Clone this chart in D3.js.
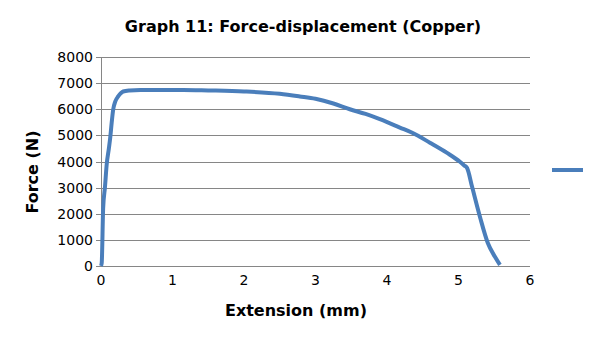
<!DOCTYPE html>
<html lang="en">
<head>
<meta charset="utf-8">
<title>Graph 11</title>
<script src="https://cdn.jsdelivr.net/npm/d3@7"></script>
<style>
  body { margin: 0; background: #fff; }
  svg { display: block; font-family: "DejaVu Sans", sans-serif; }
</style>
</head>
<body>
<div id="chart"></div>
<script>
// values
var extension = [0, 0.01, 0.03, 0.056, 0.08, 0.11, 0.13, 0.15, 0.17, 0.2, 0.24, 0.28, 0.31, 0.4, 0.55, 0.8,
  1.15, 1.5, 2.0, 2.5, 2.78, 3.0, 3.25, 3.48, 3.7, 3.9, 4.18, 4.36, 4.6, 4.84, 5.02, 5.08, 5.12,
  5.19, 5.30, 5.41, 5.51, 5.58];
var force = [0, 115, 2200, 3040, 3900, 4500, 4940, 5500, 5980, 6300, 6490, 6620, 6680, 6720, 6740, 6740,
  6740, 6720, 6680, 6590, 6490, 6400, 6220, 6000, 5820, 5620, 5300, 5090, 4720, 4330, 3990, 3850, 3750,
  3030, 1880, 880, 350, 40];
var xTicks = [0, 1, 2, 3, 4, 5, 6];
var yTicks = [0, 1000, 2000, 3000, 4000, 5000, 6000, 7000, 8000];

var W = 605, H = 340;
var svg = d3.select("#chart").append("svg").attr("width", W).attr("height", H);

var x = d3.scaleLinear().domain([0, 6]).range([101, 530]);
var y = d3.scaleLinear().domain([0, 8000]).range([266, 57]);

// gridlines + y tick marks
svg.append("g")
  .selectAll("line")
  .data(yTicks)
  .enter().append("line")
  .attr("x1", x(0) - 5).attr("x2", x(6))
  .attr("y1", function (d) { return Math.round(y(d)) + 0.5; })
  .attr("y2", function (d) { return Math.round(y(d)) + 0.5; })
  .attr("stroke", "#868686").attr("stroke-width", 1);

// y axis line
svg.append("line")
  .attr("x1", x(0) + 0.5).attr("x2", x(0) + 0.5)
  .attr("y1", y(8000)).attr("y2", y(0))
  .attr("stroke", "#868686");

// tick labels
svg.append("g")
  .selectAll("text")
  .data(yTicks)
  .enter().append("text")
  .attr("x", 93)
  .attr("y", function (d) { return y(d) + 5; })
  .attr("text-anchor", "end")
  .attr("font-size", 14)
  .text(function (d) { return d; });

svg.append("g")
  .selectAll("text")
  .data(xTicks)
  .enter().append("text")
  .attr("x", function (d) { return x(d); })
  .attr("y", 285)
  .attr("text-anchor", "middle")
  .attr("font-size", 14)
  .text(function (d) { return d; });

// curve
var pts = d3.zip(extension, force);
var line = d3.line()
  .curve(d3.curveMonotoneX)
  .x(function (d) { return x(d[0]); })
  .y(function (d) { return y(d[1]); });

svg.append("path")
  .datum(pts)
  .attr("d", line)
  .attr("fill", "none")
  .attr("stroke", "#4a7ebb")
  .attr("stroke-width", 4)
  .attr("stroke-linejoin", "round");

// legend (no label)
svg.append("line")
  .attr("x1", 552).attr("x2", 583)
  .attr("y1", 170).attr("y2", 170)
  .attr("stroke", "#4a7ebb").attr("stroke-width", 4);

// titles
svg.append("text")
  .attr("x", 303).attr("y", 32)
  .attr("text-anchor", "middle")
  .attr("font-size", 16).attr("font-weight", "bold")
  .text("Graph 11: Force-displacement (Copper)");

svg.append("text")
  .attr("x", 296).attr("y", 316)
  .attr("text-anchor", "middle")
  .attr("font-size", 16).attr("font-weight", "bold")
  .text("Extension (mm)");

svg.append("text")
  .attr("transform", "translate(38,172) rotate(-90)")
  .attr("text-anchor", "middle")
  .attr("font-size", 16).attr("font-weight", "bold")
  .text("Force (N)");
</script>
</body>
</html>
